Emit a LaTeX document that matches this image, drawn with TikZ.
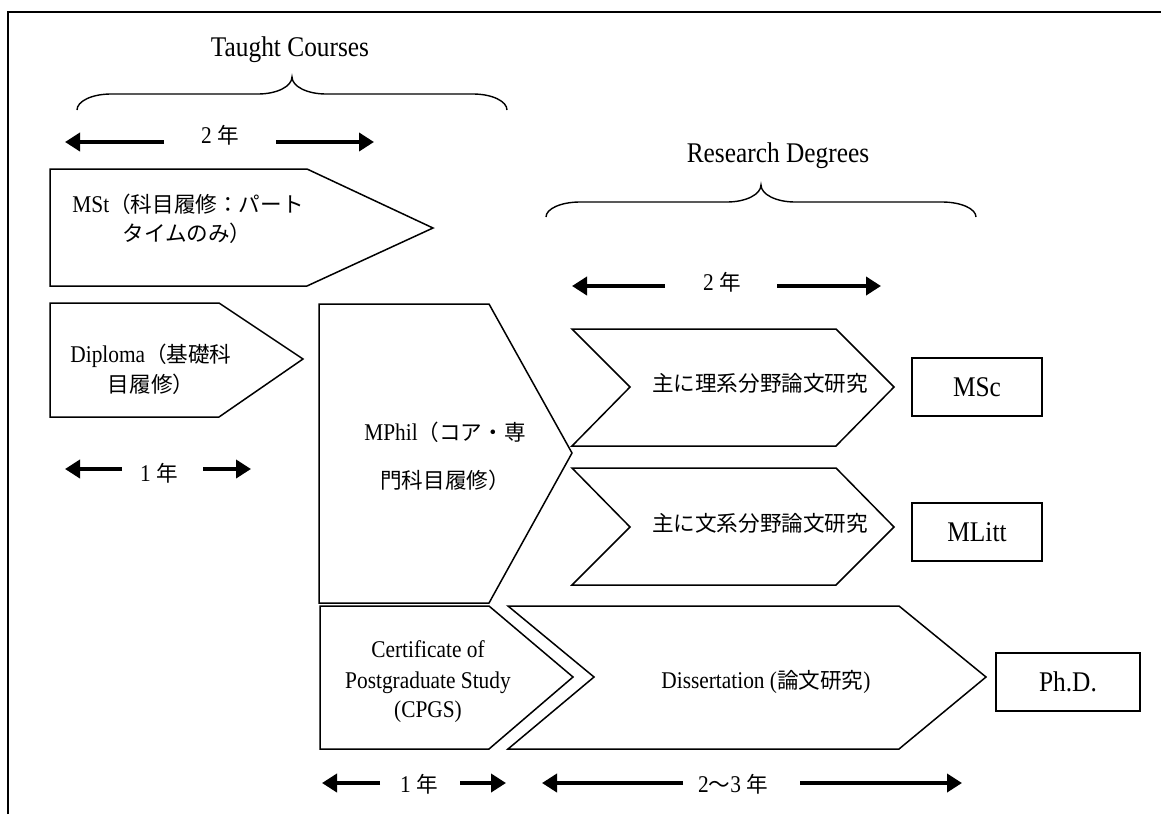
\documentclass[tikz,border=0pt]{standalone}
\usepackage{fontspec}
\setmainfont{Liberation Serif}[FakeStretch=0.89]
\newfontfamily\jp{Noto Sans CJK JP}[Scale=0.9]
\usetikzlibrary{arrows.meta}

\tikzset{
  block/.style={draw=black, line width=1.5pt, line join=miter},
  degbox/.style={draw=black, line width=1.5pt, inner sep=0pt,
    minimum width=#1, minimum height=58pt,
    font=\fontsize{28.5}{33}\selectfont},
  span/.style={line width=4pt, -{Triangle[length=15pt,width=18pt]}},
  bracestroke/.style={line width=1.4pt},
  frameline/.style={line width=2pt},
  lbl/.style={font=\fontsize{24}{28}\selectfont, inner sep=0pt, anchor=base},
  ttl/.style={font=\fontsize{28.5}{33}\selectfont, inner sep=0pt, anchor=base},
}

% curly brace opening downwards: x0, x1, tip y, flat y, end y
\newcommand\bracepath[5]{%
  \draw[bracestroke] (#1,#5)
    .. controls (#1,{#4+0.45*(#5-#4)}) and ({#1+15},#4) .. ({#1+34},#4)
    -- ({(#1+#2)/2-34},#4)
    .. controls ({(#1+#2)/2-15},#4) and ({(#1+#2)/2},{#4-0.45*(#4-#3)}) .. ({(#1+#2)/2},#3)
    .. controls ({(#1+#2)/2},{#4-0.45*(#4-#3)}) and ({(#1+#2)/2+15},#4) .. ({(#1+#2)/2+34},#4)
    -- ({#2-34},#4)
    .. controls ({#2-15},#4) and (#2,{#4+0.45*(#5-#4)}) .. (#2,#5);}

\begin{document}
\begin{tikzpicture}[x=1pt,y=-1pt]
\useasboundingbox (0,0) rectangle (1161,814);

% outer frame (left and top edges)
\draw[frameline] (8,814) -- (8,12) -- (1161,12);

% group headings and braces
\node[ttl] (taught) at (290,56) {Taught Courses};
\bracepath{77}{507}{77}{94}{110}
\node[ttl] (research) at (778,162) {Research Degrees};
\bracepath{546}{976}{185}{202}{217}

% duration arrows
\coordinate (a1l) at (164,142); \coordinate (a1lt) at (65,142);
\coordinate (a1r) at (276,142); \coordinate (a1rt) at (374,142);
\draw[span] (a1l) -- (a1lt);
\draw[span] (a1r) -- (a1rt);
\node[lbl] (yr2a) at (220,143) {2 {\jp 年}};

\coordinate (a2l) at (665,286); \coordinate (a2lt) at (572,286);
\coordinate (a2r) at (777,286); \coordinate (a2rt) at (881,286);
\draw[span] (a2l) -- (a2lt);
\draw[span] (a2r) -- (a2rt);
\node[lbl] (yr2b) at (722,290) {2 {\jp 年}};

\coordinate (a3l) at (122,469); \coordinate (a3lt) at (65,469);
\coordinate (a3r) at (203,469); \coordinate (a3rt) at (251,469);
\draw[span] (a3l) -- (a3lt);
\draw[span] (a3r) -- (a3rt);
\node[lbl] (yr1a) at (159,481) {1 {\jp 年}};

\coordinate (a4l) at (380,783); \coordinate (a4lt) at (322,783);
\coordinate (a4r) at (460,783); \coordinate (a4rt) at (506,783);
\draw[span] (a4l) -- (a4lt);
\draw[span] (a4r) -- (a4rt);
\node[lbl] (yr1b) at (419,792) {1 {\jp 年}};

\coordinate (a5l) at (683,783); \coordinate (a5lt) at (542,783);
\coordinate (a5r) at (800,783); \coordinate (a5rt) at (962,783);
\draw[span] (a5l) -- (a5lt);
\draw[span] (a5r) -- (a5rt);
\node[lbl] (yr23) at (733,792) {2{\jp 〜}3 {\jp 年}};

% taught course blocks
\draw[block] (50,169) -- (307,169) -- (433,228) -- (307,286) -- (50,286) -- cycle;
\node[lbl] (mst1) at (188,212) {MSt{\jp（科目履修：パート}};
\node[lbl] (mst2) at (187,241) {{\jp タイムのみ）}};

\draw[block] (50,303) -- (219,303) -- (303,359) -- (219,417) -- (50,417) -- cycle;
\node[lbl] (dip1) at (151,362) {Diploma{\jp（基礎科}};
\node[lbl] (dip2) at (151,392) {{\jp 目履修）}};

\draw[block] (319,304) -- (489,304) -- (572,453) -- (489,603) -- (319,603) -- cycle;
\node[lbl] (mph1) at (445,440) {MPhil{\jp（コア・専}};
\node[lbl] (mph2) at (445,488) {{\jp 門科目履修）}};

\draw[block] (320,606) -- (489,606) -- (573,677) -- (489,749) -- (320,749) -- cycle;
\node[lbl] (cp1) at (428,657) {Certificate of};
\node[lbl] (cp2) at (428,688) {Postgraduate Study};
\node[lbl] (cp3) at (428,717) {(CPGS)};

% research blocks
\draw[block] (572,329) -- (836,329) -- (894,387) -- (836,446) -- (572,446) -- (630,387) -- cycle;
\node[lbl] (sci) at (760,391) {\jp 主に理系分野論文研究};

\draw[block] (572,468) -- (836,468) -- (894,527) -- (836,585) -- (572,585) -- (630,527) -- cycle;
\node[lbl] (art) at (760,531) {\jp 主に文系分野論文研究};

\draw[block] (508,606) -- (899,606) -- (986,677) -- (899,749) -- (508,749) -- (594,677) -- cycle;
\node[lbl] (diss) at (766,688) {Dissertation ({\jp 論文研究})};

% awarded degrees
\node[degbox=130pt] (msc) at (977,387) {MSc};
\node[degbox=130pt] (mlitt) at (977,532) {MLitt};
\node[degbox=144pt] (phd) at (1068,682) {Ph.D.};
\end{tikzpicture}
\end{document}
